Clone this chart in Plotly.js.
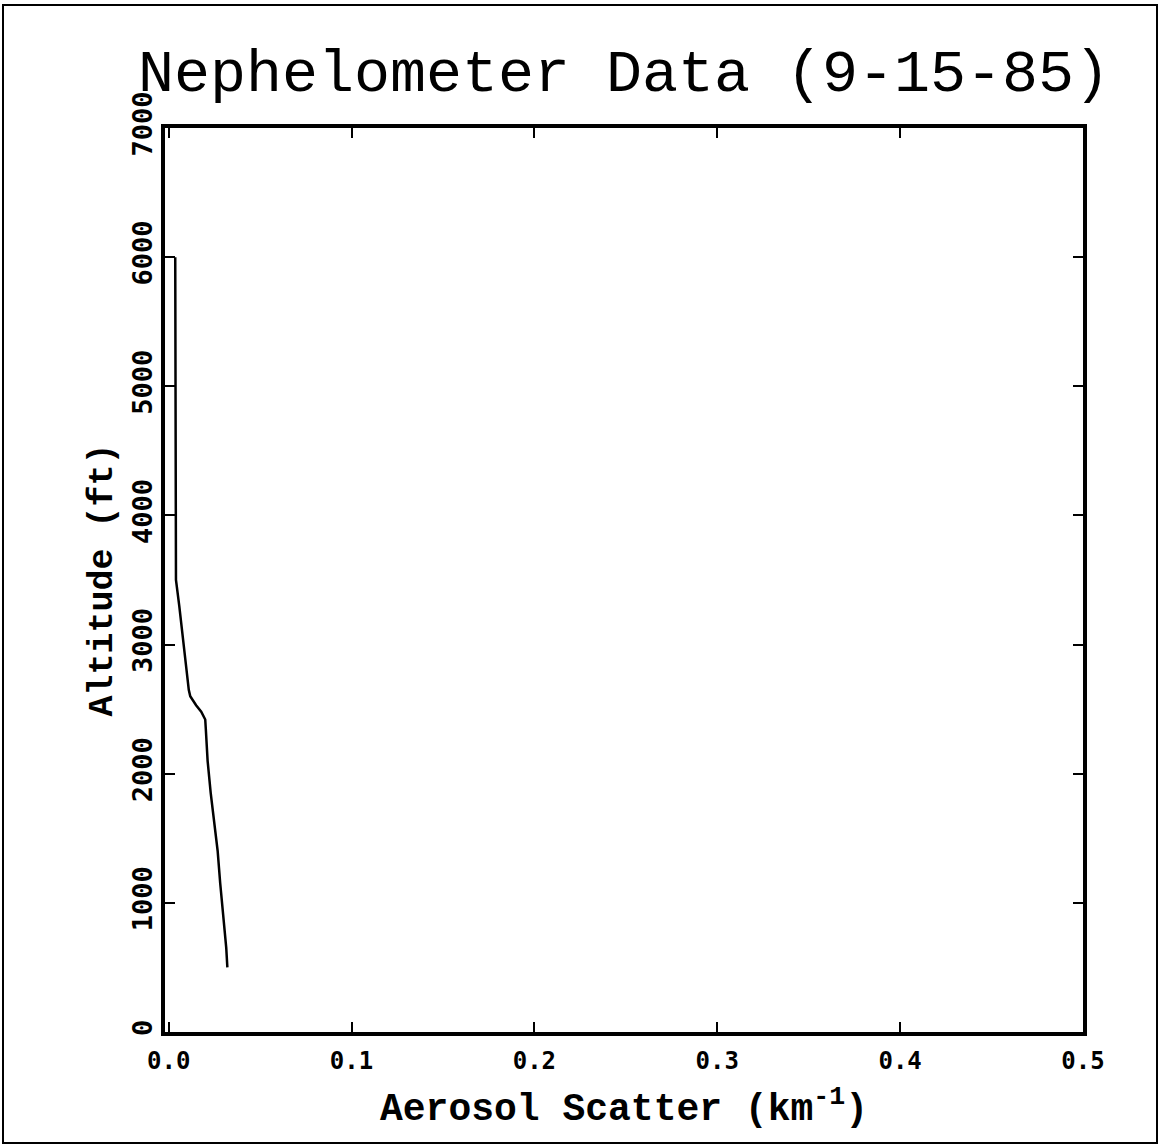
<!DOCTYPE html>
<html>
<head>
<meta charset="utf-8">
<script src="https://cdn.plot.ly/plotly-3.0.1.min.js"></script>
<style>
html,body{margin:0;padding:0;background:#fff;}
#chart{width:1161px;height:1146px;}
</style>
</head>
<body>
<div id="chart"></div>
<script>
// Altitude (ft) and aerosol scatter (km^-1) read from the profile
var altitudeFt = [6000, 5000, 4000, 3500, 3300, 3100, 2850, 2650, 2600, 2530, 2480, 2420, 2350, 2100, 1850, 1650, 1400, 1150, 900, 650, 500];
var scatterKm  = [0.0036, 0.0036, 0.0036, 0.0040, 0.0058, 0.0074, 0.0093, 0.0110, 0.0118, 0.0150, 0.0178, 0.0200, 0.0203, 0.0213, 0.0230, 0.0246, 0.0268, 0.0282, 0.0300, 0.0315, 0.0321];
var xTickVals = [0, 0.1, 0.2, 0.3, 0.4, 0.5];
var xTickText = ["0.0", "0.1", "0.2", "0.3", "0.4", "0.5"];
var yTickVals = [0, 1000, 2000, 3000, 4000, 5000, 6000, 7000];
var yTickText = ["0", "1000", "2000", "3000", "4000", "5000", "6000", "7000"];

var mono = "Courier New, Liberation Mono, monospace";
var tickFont = "DejaVu Sans Mono, monospace";

var trace = {
  x: scatterKm,
  y: altitudeFt,
  type: "scatter",
  mode: "lines",
  line: {color: "#000", width: 2.5},
  showlegend: false,
  hoverinfo: "x+y"
};

var layout = {
  width: 1161,
  height: 1146,
  margin: {l: 165, r: 78, t: 128, b: 114},
  paper_bgcolor: "#fff",
  plot_bgcolor: "#fff",
  title: {
    text: "Nephelometer Data (9-15-85)",
    font: {family: mono, size: 60, color: "#000"},
    x: 0.5, xref: "paper", xanchor: "center",
    y: 1 - 70/1146, yref: "container", yanchor: "middle"
  },
  xaxis: {
    range: [-0.002, 0.5],
    tickvals: xTickVals,
    ticktext: xTickText,
    ticks: "inside",
    ticklen: 10,
    tickwidth: 2,
    tickcolor: "#000",
    showline: true,
    linewidth: 4,
    linecolor: "#000",
    mirror: "ticks",
    showgrid: false,
    zeroline: false,
    ticklabelstandoff: 4,
    tickfont: {family: tickFont, size: 24, color: "#000", weight: "bold"},
    title: {
      text: "Aerosol Scatter (km<sup>-1</sup>)",
      font: {family: mono, size: 38, color: "#000", weight: "bold"},
      standoff: 21
    }
  },
  yaxis: {
    range: [0, 7000],
    tickvals: yTickVals,
    ticktext: yTickText,
    tickangle: -90,
    ticks: "inside",
    ticklen: 10,
    tickwidth: 2,
    tickcolor: "#000",
    showline: true,
    linewidth: 4,
    linecolor: "#000",
    mirror: "ticks",
    showgrid: false,
    zeroline: false,
    ticklabelstandoff: -2,
    tickfont: {family: tickFont, size: 27, color: "#000", weight: "bold"},
    title: {
      text: "Altitude (ft)",
      font: {family: mono, size: 35, color: "#000", weight: "bold"},
      standoff: 5
    }
  },
  shapes: [{
    type: "rect",
    xref: "paper", yref: "paper",
    x0: (3 - 165) / 918, x1: (1157 - 165) / 918,
    y0: (1032 - 1143) / 904, y1: (1032 - 5) / 904,
    line: {color: "#000", width: 2},
    fillcolor: "rgba(0,0,0,0)"
  }]
};

Plotly.newPlot("chart", [trace], layout, {displayModeBar: false, staticPlot: true});
</script>
</body>
</html>
